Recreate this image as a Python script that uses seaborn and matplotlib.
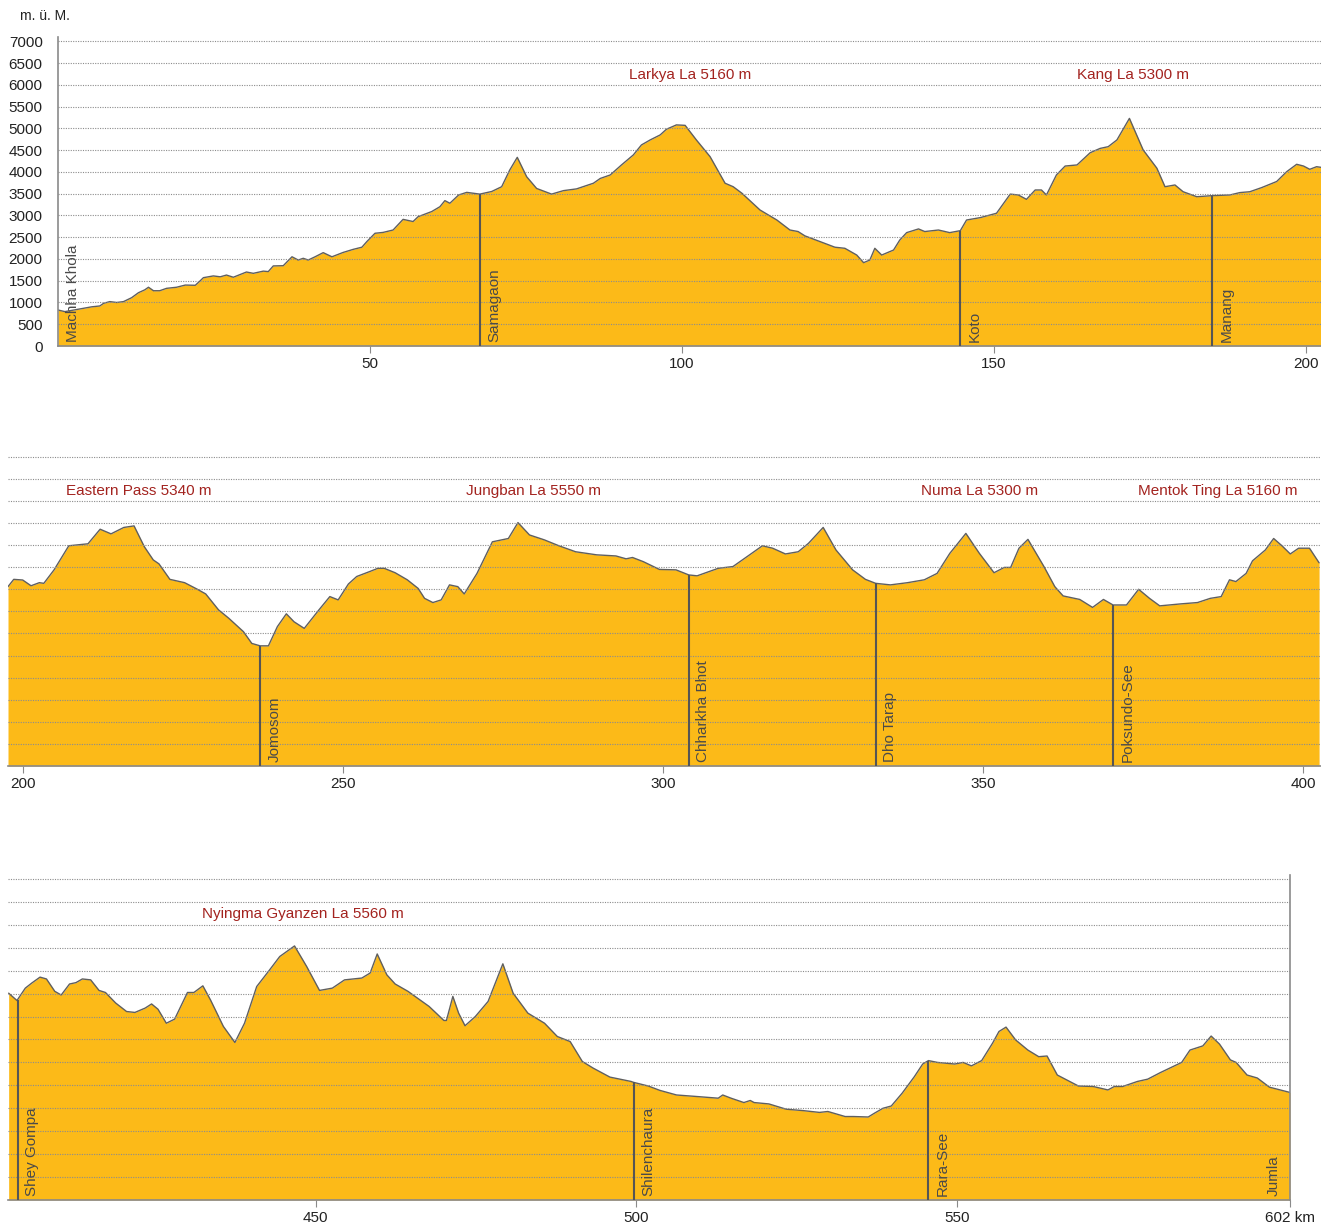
import numpy as np
import pandas as pd
import seaborn as sns
import matplotlib.pyplot as plt

# ---------------- data ----------------
km1 = [0, 1.1, 3.5, 5.4, 6.7, 7.3, 8.3, 9.4, 10.5, 11.8, 12.9, 13.9, 14.5, 15.3, 16.3, 17.4, 19.0, 20.4, 22.0, 22.8,
       23.3, 24.9, 26.0, 27.0, 28.1, 30.2, 31.3, 32.9, 33.7, 34.5, 36.1, 37.5, 38.5, 39.3, 40.1, 41.2, 42.5, 43.9,
       45.7, 47.3, 48.7, 49.5, 50.8, 52.1, 53.7, 55.3, 56.9, 57.7, 59.9, 61.2, 62.0, 62.8, 64.2, 65.5, 67.6, 69.5,
       71.1, 72.4, 73.6, 75.1, 76.7, 79.1, 81.0, 83.1, 85.8, 86.9, 88.5, 90.3, 92.2, 93.5, 94.9, 96.5, 97.5, 99.1,
       100.5, 102.3, 104.5, 106.9, 108.2, 109.6, 112.5, 115.2, 117.3, 118.6, 119.7, 122.1, 124.5, 126.1, 128.0,
       129.1, 130.1, 130.9, 132.0, 133.9, 134.9, 136.0, 137.9, 138.9, 141.1, 142.9, 144.6, 145.6, 147.8, 150.4,
       152.6, 153.9, 155.2, 156.6, 157.6, 158.4, 160.0, 161.4, 163.3, 165.4, 167.0, 168.3, 169.7, 171.7, 173.9,
       176.1, 177.4, 179.0, 180.3, 182.5, 185.0, 187.8, 189.4, 191.0, 192.9, 195.3, 196.9, 198.5, 199.6, 200.6,
       201.7, 202.4]
elev1 = [827, 790, 850, 900, 920, 980, 1020, 1000, 1020, 1110, 1225, 1290, 1350, 1270, 1270, 1325, 1350, 1400, 1395,
         1500, 1570, 1610, 1590, 1630, 1580, 1700, 1670, 1720, 1710, 1840, 1845, 2050, 1975, 2015, 1975, 2050, 2145,
         2050, 2150, 2220, 2270, 2400, 2590, 2610, 2665, 2910, 2860, 2970, 3090, 3200, 3340, 3280, 3470, 3530, 3490,
         3550, 3660, 4045, 4335, 3890, 3620, 3490, 3570, 3610, 3740, 3850, 3930, 4160, 4390, 4620, 4735, 4850, 4980,
         5080, 5070, 4735, 4350, 3740, 3660, 3510, 3125, 2895, 2665, 2630, 2530, 2400, 2270, 2245, 2090, 1915, 1975,
         2245, 2090, 2205, 2435, 2605, 2690, 2630, 2665, 2605, 2650, 2895, 2950, 3050, 3490, 3470, 3370, 3585, 3585,
         3470, 3930, 4135, 4160, 4440, 4540, 4580, 4735, 5230, 4505, 4085, 3660, 3700, 3545, 3430, 3455, 3470, 3525,
         3545, 3640, 3780, 4005, 4175, 4135, 4060, 4120, 4105]

km2 = [197.6, 198.5, 199.9, 201.2, 202.5, 203.2, 204.8, 207.1, 210.1, 212.0, 213.7, 215.7, 217.3, 218.9, 220.3,
       221.2, 222.9, 225.2, 227.2, 228.5, 230.5, 232.1, 234.4, 235.7, 237.0, 238.3, 239.7, 241.1, 242.3, 243.9,
       246.2, 247.9, 249.2, 250.8, 252.1, 254.1, 255.4, 256.4, 258.1, 260.0, 261.7, 262.7, 264.0, 265.3, 266.6,
       267.9, 268.9, 270.9, 273.3, 275.8, 277.3, 279.1, 281.4, 283.7, 286.3, 289.6, 292.6, 294.2, 295.2, 296.9,
       299.4, 302.0, 304.0, 305.3, 308.6, 310.9, 313.5, 315.5, 317.1, 319.1, 321.1, 322.7, 325.0, 327.0, 329.6,
       331.6, 333.2, 335.5, 338.2, 340.8, 342.8, 344.8, 347.3, 349.4, 351.7, 353.3, 354.3, 355.6, 357.0, 359.5,
       361.2, 362.5, 365.1, 367.1, 368.8, 370.3, 372.4, 374.3, 376.0, 377.6, 380.9, 383.5, 385.5, 387.2, 388.5,
       389.5, 391.1, 392.1, 394.1, 395.4, 396.7, 398.0, 399.3, 401.0, 402.5]
elev2 = [4060, 4225, 4210, 4080, 4150, 4135, 4440, 4985, 5030, 5360, 5255, 5400, 5435, 4965, 4665, 4575, 4225, 4150,
         4000, 3895, 3535, 3345, 3040, 2775, 2720, 2720, 3155, 3445, 3265, 3115, 3535, 3835, 3760, 4120, 4290, 4400,
         4475, 4475, 4375, 4215, 4020, 3795, 3700, 3760, 4100, 4060, 3895, 4360, 5075, 5150, 5510, 5230, 5120, 4985,
         4850, 4780, 4755, 4690, 4720, 4625, 4450, 4440, 4325, 4305, 4475, 4515, 4780, 4985, 4930, 4800, 4850, 5040,
         5400, 4890, 4440, 4225, 4135, 4100, 4150, 4215, 4360, 4815, 5265, 4815, 4375, 4495, 4495, 4930, 5130, 4515,
         4060, 3850, 3770, 3590, 3770, 3645, 3645, 4000, 3795, 3625, 3670, 3700, 3795, 3835, 4215, 4175, 4360, 4645,
         4890, 5150, 4985, 4800, 4930, 4930, 4600]

km3 = [402.1, 403.4, 404.7, 405.7, 407.0, 408.0, 409.3, 410.3, 411.6, 412.6, 413.6, 414.9, 416.2, 417.2, 418.8,
       420.5, 421.8, 423.4, 424.4, 425.4, 426.7, 428.0, 430.0, 431.0, 432.4, 433.6, 435.6, 437.4, 438.9, 440.8,
       442.8, 444.4, 446.7, 448.6, 450.6, 452.6, 454.5, 457.2, 458.5, 459.6, 461.1, 462.4, 464.4, 467.7, 470.0,
       470.4, 471.4, 472.3, 473.3, 474.9, 476.9, 479.2, 480.8, 483.1, 485.7, 487.7, 489.7, 491.6, 493.3, 495.9,
       499.2, 499.6, 501.9, 503.7, 506.3, 509.6, 512.8, 513.5, 514.8, 516.8, 517.8, 518.4, 520.7, 523.4, 526.0,
       528.6, 529.9, 532.6, 533.9, 536.2, 537.2, 538.5, 539.8, 541.5, 543.4, 544.7, 545.6, 547.0, 549.7, 551.0,
       552.3, 553.9, 555.6, 556.6, 557.7, 559.2, 561.1, 562.8, 564.1, 565.7, 569.0, 571.3, 573.6, 574.6, 575.9,
       578.2, 579.8, 581.8, 585.1, 586.4, 588.4, 589.7, 591.0, 592.7, 593.6, 595.3, 596.9, 598.8, 602.0]
elev3 = [4510, 4350, 4620, 4730, 4860, 4820, 4550, 4470, 4710, 4740, 4820, 4800, 4570, 4525, 4295, 4110, 4090, 4185,
         4275, 4160, 3855, 3945, 4525, 4525, 4670, 4360, 3785, 3435, 3855, 4655, 5015, 5310, 5540, 5090, 4570, 4620,
         4800, 4840, 4950, 5365, 4910, 4710, 4550, 4220, 3915, 3915, 4440, 4075, 3800, 4000, 4330, 5150, 4510, 4075,
         3855, 3565, 3455, 3020, 2875, 2680, 2585, 2565, 2485, 2390, 2290, 2255, 2220, 2290, 2220, 2125, 2170, 2125,
         2095, 1980, 1950, 1910, 1930, 1820, 1820, 1810, 1895, 2000, 2050, 2330, 2690, 2965, 3040, 3000, 2965, 3000,
         2925, 3040, 3420, 3675, 3770, 3490, 3270, 3125, 3140, 2725, 2485, 2475, 2400, 2475, 2475, 2585, 2635, 2780,
         3000, 3270, 3360, 3575, 3400, 3055, 3000, 2725, 2660, 2460, 2345]

towns1 = ['Machha Khola', 'Samagaon', 'Koto', 'Manang']
town_km1 = [0, 67.6, 144.6, 185.0]
towns2 = ['Jomosom', 'Chharkha Bhot', 'Dho Tarap', 'Poksundo-See']
town_km2 = [237.0, 304.0, 333.2, 370.3]
towns3 = ['Shey Gompa', 'Shilenchaura', 'Rara-See', 'Jumla']
town_km3 = [403.5, 499.6, 545.6, 602.0]

passes1 = ['Larkya La 5160 m', 'Kang La 5300 m']
pass_km1 = [101.3, 172.3]
passes2 = ['Eastern Pass 5340 m', 'Jungban La 5550 m', 'Numa La 5300 m', 'Mentok Ting La 5160 m']
pass_km2 = [218.0, 279.7, 349.4, 386.6]
passes3 = ['Nyingma Gyanzen La 5560 m']
pass_km3 = [448.0]

xticks1 = [50, 100, 150, 200]
xticks2 = [200, 250, 300, 350, 400]
xticks3 = [450, 500, 550, 602]
xticklabels3 = ['450', '500', '550', '602 km']
yticks = list(range(0, 7001, 500))

# ---------------- style ----------------
sns.set_theme(style='white')
plt.rcParams['font.family'] = ['Liberation Sans', 'DejaVu Sans']

FILL = '#FCBA18'
EDGE = '#5f5f5f'
GRID = '#8c8c8c'
SPINE = '#8a8a8a'
PASS_C = '#A3231F'
TOWN_C = '#4a4a4a'

W, H = 1321, 1223
fig = plt.figure(figsize=(W / 100, H / 100), dpi=100)


def box(left, right, bottom, top):
    return [left / W, 1 - bottom / H, (right - left) / W, (bottom - top) / H]


ax1 = fig.add_axes(box(58, 1321, 346, 37))
ax2 = fig.add_axes(box(8, 1321, 766, 455))
ax3 = fig.add_axes(box(8, 1290, 1200, 875))

panels = [
    (ax1, km1, elev1, towns1, town_km1, passes1, pass_km1, (0, 202.4), (0, 7100), xticks1, [str(t) for t in xticks1]),
    (ax2, km2, elev2, towns2, town_km2, passes2, pass_km2, (197.6, 402.8), (0, 7040), xticks2, [str(t) for t in xticks2]),
    (ax3, km3, elev3, towns3, town_km3, passes3, pass_km3, (402.0, 602.0), (0, 7087), xticks3, xticklabels3),
]

for i, (ax, km, el, towns, tkm, passes, pkm, xl, yl, xt, xtl) in enumerate(panels):
    df = pd.DataFrame({'km': km, 'elev': el})
    ax.fill_between(df['km'], df['elev'], 0, color=FILL, lw=0, zorder=1)
    sns.lineplot(data=df, x='km', y='elev', ax=ax, color=EDGE, lw=1.0, estimator=None, sort=False, zorder=2)
    ax.set_xlim(*xl)
    ax.set_ylim(*yl)
    ax.set_xlabel('')
    ax.set_ylabel('')
    ax.set_yticks(yticks)
    ax.grid(axis='y', linestyle=(0, (1, 1.2)), color=GRID, lw=0.8, zorder=3)
    ax.grid(axis='x', visible=False)
    ax.set_axisbelow(False)
    ax.set_xticks(xt)
    ax.set_xticklabels(xtl)
    ax.tick_params(axis='x', bottom=True, direction='out', length=5, width=0.8, color=SPINE,
                   labelsize=11, pad=3, labelcolor='#222222')
    for s in ['top', 'left', 'right', 'bottom']:
        ax.spines[s].set_visible(False)
    ax.spines['bottom'].set_visible(True)
    ax.spines['bottom'].set_color(SPINE)
    ax.spines['bottom'].set_linewidth(1.2)
    if i == 0:
        ax.spines['left'].set_visible(True)
        ax.spines['left'].set_color(SPINE)
        ax.spines['left'].set_linewidth(1.2)
        ax.tick_params(axis='y', left=False, labelsize=11, pad=5, labelcolor='#222222')
    else:
        ax.tick_params(axis='y', left=False, labelleft=False)
    if i == 2:
        ax.spines['right'].set_visible(True)
        ax.spines['right'].set_color(SPINE)
        ax.spines['right'].set_linewidth(1.2)

    # towns
    for name, k in zip(towns, tkm):
        h = np.interp(k, km, el)
        at_edge = abs(k - xl[0]) < 0.5 or abs(k - xl[1]) < 0.5
        if not at_edge:
            ax.vlines(k, 0, h, color='#555555', lw=1.5, zorder=4)
        dx = -12 if abs(k - xl[1]) < 0.5 else 10.5
        ax.annotate(name, xy=(k, 0), xytext=(dx, 3), textcoords='offset points', rotation=90,
                    ha='center', va='bottom', fontsize=11, color=TOWN_C, zorder=5)
    # passes
    for name, k in zip(passes, pkm):
        ax.text(k, 6230, name, ha='center', va='center', fontsize=11, color=PASS_C, zorder=5)

fig.text(20 / W, 1 - 16 / H, 'm. ü. M.', ha='left', va='center', fontsize=10, color='#222222')

fig.savefig('out.png', dpi=100, facecolor='white')
